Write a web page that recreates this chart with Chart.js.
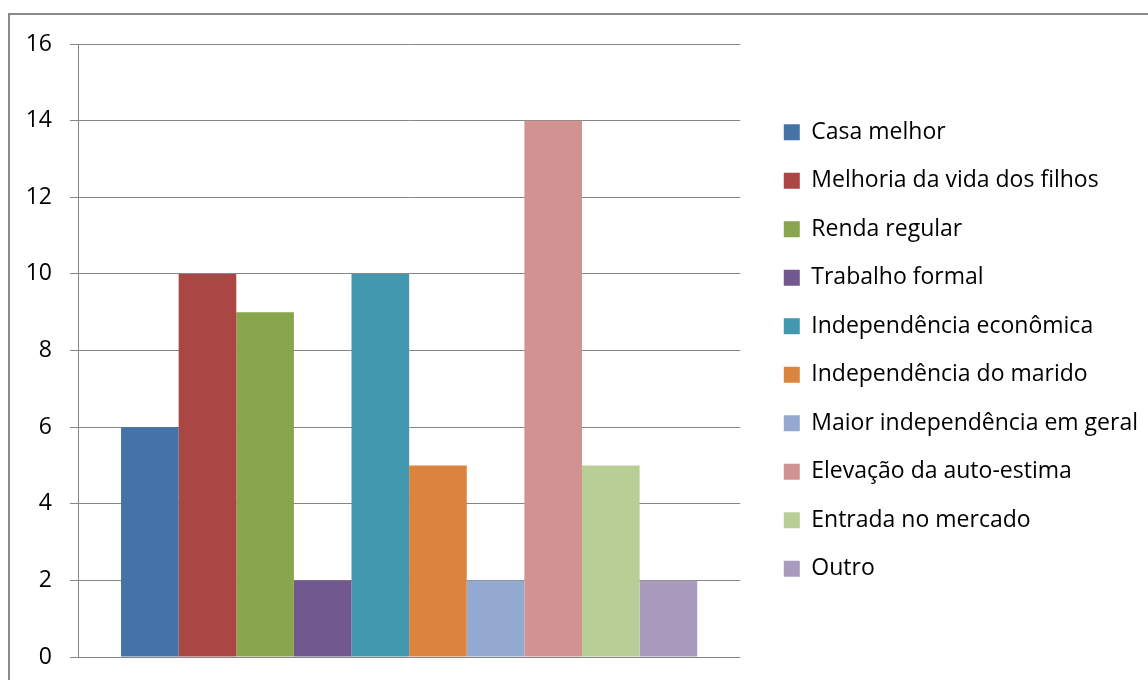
<!DOCTYPE html>
<html>
<head>
<meta charset="utf-8">
<script src="https://cdn.jsdelivr.net/npm/chart.js@4/dist/chart.umd.min.js"></script>
<style>
html,body{margin:0;padding:0;background:#fff;}
#wrap{width:1148px;height:680px;position:relative;}
</style>
</head>
<body>
<div id="wrap"><canvas id="c" width="1148" height="680"></canvas></div>
<script>
const categories = [""];
const seriesNames = ["Casa melhor","Melhoria da vida dos filhos","Renda regular","Trabalho formal","Independência econômica","Independência do marido","Maior independência em geral","Elevação da auto-estima","Entrada no mercado","Outro"];
const seriesValues = [6,10,9,2,10,5,2,14,5,2];
const seriesColors = ["#4572A7","#AA4643","#89A54E","#71588F","#4198AF","#DB843D","#93A9CF","#D19392","#B9CD96","#A99BBD"];
const yTicks = [0,2,4,6,8,10,12,14,16];

const FONT = "'Open Sans'";
const frame = {
  id: 'frame',
  beforeDraw(chart){
    const c = chart.ctx;
    c.save();
    c.fillStyle = '#fff';
    c.fillRect(0,0,chart.width,chart.height);
    c.strokeStyle = '#8a8a8a';
    c.lineWidth = 2;
    c.strokeRect(9,14,1200,700);
    c.restore();
  }
};

new Chart(document.getElementById('c'), {
  type: 'bar',
  data: {
    labels: categories,
    datasets: seriesNames.map((n,i)=>({
      label: n,
      data: [seriesValues[i]],
      backgroundColor: seriesColors[i],
      borderWidth: 0,
      categoryPercentage: 0.87,
      barPercentage: 1.0
    }))
  },
  options: {
    responsive: false,
    animation: false,
    layout: { padding: { left: 27, top: 44, bottom: 23, right: 0 } },
    plugins: {
      title: { display: false },
      tooltip: { enabled: false },
      legend: {
        position: 'right',
        maxWidth: 390,
        labels: {
          boxWidth: 16, boxHeight: 16, padding: 25.5,
          color: '#000',
          font: { family: FONT, size: 23 }
        }
      }
    },
    scales: {
      x: { display: false },
      y: {
        min: 0, max: 16,
        afterBuildTicks: s => { s.ticks = yTicks.map(v=>({value:v})); },
        afterFit: s => { s.width = 51; s.paddingTop = 0; s.paddingBottom = 0; },
        ticks: { color:'#000', padding: 18, font: { family: FONT, size: 23 } },
        grid: { color: '#868686', lineWidth: 1, tickLength: 8, drawTicks: true },
        border: { display: true, color: '#868686', width: 1 }
      },
      yr: {
        position: 'right', display: true, min:0, max:16,
        grid: { display: false, drawOnChartArea: false, drawTicks:false },
        ticks: { display: false },
        border: { display: false },
        afterFit: s => { s.width = 18; s.paddingTop = 0; s.paddingBottom = 0; }
      }
    }
  },
  plugins: [frame]
});
</script>
</body>
</html>
